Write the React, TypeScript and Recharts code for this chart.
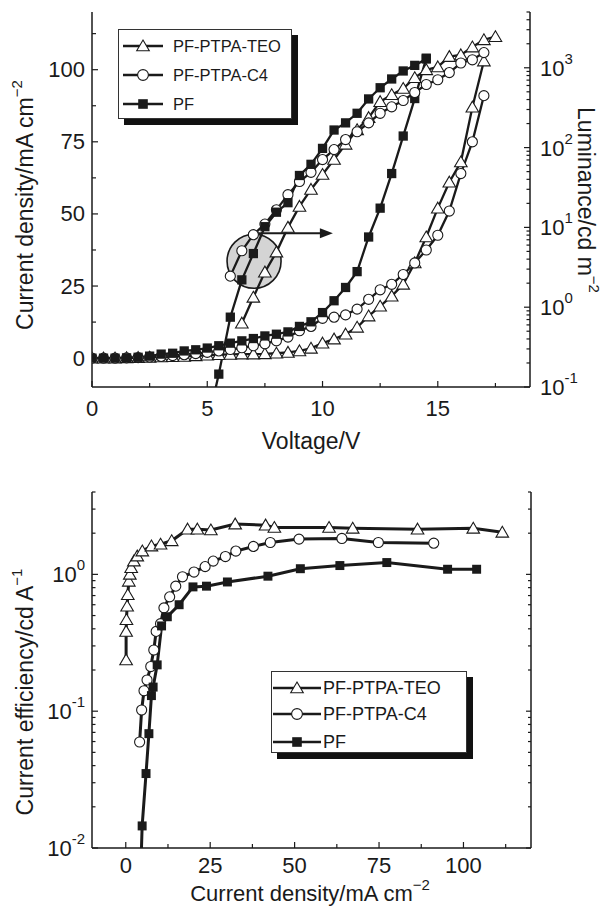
import React from "react";
import { LineChart, Line, XAxis, YAxis, ReferenceDot, ReferenceLine } from "recharts";

// ---------- panel a) current density (left) and luminance (right) vs voltage ----------
const vJ = [0, 0.5, 1, 1.5, 2, 2.5, 3, 3.5, 4, 4.5, 5, 5.5, 6, 6.5, 7, 7.5, 8, 8.5, 9, 9.5, 10, 10.5, 11, 11.5, 12, 12.5, 13, 13.5, 14, 14.5, 15, 15.5, 16, 16.5, 17];
const jTEO = [0, 0, 0, 0.1, 0.2, 0.3, 0.4, 0.5, 0.6, 0.8, 1.0, 1.2, 1.3, 1.4, 1.4, 1.5, 1.7, 2.0, 2.5, 3.4, 5.2, 6.6, 8.3, 10.7, 14.6, 18, 21.5, 25.6, 33, 42, 52, 61, 68, 87, 103];
const jC4 = [0, 0, 0, 0.1, 0.2, 0.4, 0.6, 0.9, 1.2, 1.6, 2.0, 2.5, 3.0, 3.6, 4.3, 5.0, 6.0, 7.3, 9.5, 11, 13.8, 14.2, 15, 17, 20.4, 23.7, 25.6, 29, 33, 37.5, 42.6, 51, 64, 75, 91];
const vJPF = [0, 0.5, 1, 1.5, 2, 2.5, 3, 3.5, 4, 4.5, 5, 5.5, 6, 6.5, 7, 7.5, 8, 8.5, 9, 9.5, 10, 10.5, 11, 11.5, 12, 12.5, 13, 13.5, 14, 14.5];
const jPF = [0, 0, 0, 0.1, 0.3, 0.7, 1.4, 1.7, 2.5, 2.9, 3.5, 4.3, 5.2, 6.0, 6.8, 7.7, 8.3, 9.1, 11, 12.6, 15.8, 19.9, 24.5, 30, 42, 52, 64, 77, 90, 104];

const vLumTEO = [6.5, 7, 7.5, 8, 8.5, 9, 9.5, 10, 10.5, 11, 11.5, 12, 12.5, 13, 13.5, 14, 14.5, 15, 15.5, 16, 16.5, 17, 17.5];
const lumTEO = [0.63, 1.33, 2.75, 4.9, 10, 18.3, 29.9, 46, 71, 110, 167, 237, 376, 459, 550, 750, 944, 1024, 1380, 1450, 1820, 2240, 2450];
const vLumC4 = [6, 6.5, 7, 7.5, 8, 8.5, 9, 9.5, 10, 10.5, 11, 11.5, 12, 12.5, 13, 13.5, 14, 14.5, 15, 15.5, 16, 16.5, 17];
const lumC4 = [2.45, 5.1, 8.1, 11, 16.6, 25.7, 37.6, 49, 70.8, 94.4, 126, 158, 204, 269, 324, 389, 490, 617, 708, 871, 1148, 1259, 1549];
const vLumPF = [5.2, 5.5, 6, 6.5, 7, 7.5, 8, 8.5, 9, 9.5, 10, 10.5, 11, 11.5, 12, 12.5, 13, 13.5, 14, 14.5];
const lumPF = [0.06, 0.145, 0.75, 2.2, 4.7, 10.2, 15.5, 20.4, 44.7, 61.7, 97.7, 166, 204, 269, 407, 562, 724, 912, 1072, 1288];

// ---------- panel b) current efficiency vs current density ----------
const jEffTEO = [0.1, 0.1, 0.2, 0.4, 0.6, 0.9, 1.2, 1.6, 2.4, 3.4, 4.9, 7.6, 10.3, 13.6, 18.3, 21.2, 25.2, 32.4, 41.4, 44, 60.2, 67.2, 86.4, 102.9, 111.5];
const effTEO = [0.237, 0.383, 0.466, 0.585, 0.71, 0.89, 1.0, 1.12, 1.25, 1.36, 1.48, 1.61, 1.66, 1.76, 2.14, 2.14, 2.11, 2.33, 2.29, 2.2, 2.2, 2.17, 2.14, 2.17, 2.03];
const jEffC4 = [4.1, 4.7, 5.4, 6.3, 7.4, 8.3, 9.0, 10.3, 11.3, 13, 14.8, 16.8, 20.2, 23.5, 25.9, 29.5, 32.6, 37.8, 42.8, 51.3, 64, 74.8, 91.2];
const effC4 = [0.0595, 0.102, 0.141, 0.169, 0.212, 0.28, 0.383, 0.436, 0.569, 0.685, 0.82, 0.96, 1.04, 1.14, 1.25, 1.35, 1.48, 1.6, 1.71, 1.81, 1.83, 1.71, 1.69];
const jEffPF = [4.5, 4.85, 6.0, 6.85, 7.6, 8.1, 9.3, 10.6, 12.3, 15.8, 19.9, 23.9, 30.1, 42.1, 51.7, 63.4, 77.3, 95.3, 103.9];
const effPF = [0.0075, 0.0145, 0.035, 0.0685, 0.13, 0.15, 0.218, 0.42, 0.49, 0.6, 0.81, 0.82, 0.88, 0.97, 1.1, 1.16, 1.22, 1.09, 1.09];

// ticks
const aXTicks = [0, 2.5, 5, 7.5, 10, 12.5, 15, 17.5];
const aYTicks = [0, 12.5, 25, 37.5, 50, 62.5, 75, 87.5, 100, 112.5];
const bXTicks = [0, 12.5, 25, 37.5, 50, 62.5, 75, 87.5, 100, 112.5];

const seriesNames = ["PF-PTPA-TEO", "PF-PTPA-C4", "PF"];

const FONT = "'Liberation Sans', Arial, Helvetica, sans-serif";
const INK = "#1a1a1a";

const zip = (xs: number[], ys: number[]) => xs.map((x, i) => ({ x, y: ys[i] }));

const logTicks = (from: number, to: number) => {
  const out: number[] = [];
  for (let e = Math.floor(Math.log10(from)); e <= Math.ceil(Math.log10(to)); e++) {
    for (let m = 1; m <= 9; m++) {
      const v = m * Math.pow(10, e);
      if (v >= from * 0.999 && v <= to * 1.001) out.push(v);
    }
  }
  return out;
};
const isDecade = (v: number) => Math.abs(Math.log10(v) - Math.round(Math.log10(v))) < 1e-6;
const every = (step: number) => (v: number) => Math.abs(v / step - Math.round(v / step)) < 1e-6;

const pow10Label = (v: number) => {
  const e = Math.round(Math.log10(v));
  return (
    <>
      <tspan>10</tspan>
      <tspan dy={-10} fontSize={15}>{e < 0 ? `-${-e}` : `${e}`}</tspan>
    </>
  );
};

type Side = "left" | "right" | "top" | "bottom";
const makeTick =
  (side: Side, isMajor: (v: number) => boolean, fmt: ((v: number) => React.ReactNode) | null, gap = 8, majorLen = 6, minorLen = 4) =>
  (props: any) => {
    const { x, y, payload, index } = props;
    const v = payload.value as number;
    const major = isMajor(v);
    const len = major ? majorLen : minorLen;
    const dx = side === "left" ? len : side === "right" ? -len : 0;
    const dy = side === "bottom" ? -len : side === "top" ? len : 0;
    let label: React.ReactNode = null;
    if (fmt && major) {
      const pos =
        side === "left"
          ? { x: x - gap, y, textAnchor: "end" }
          : side === "right"
          ? { x: x + gap, y, textAnchor: "start" }
          : side === "bottom"
          ? { x, y: y + gap, textAnchor: "middle" }
          : { x, y: y - gap, textAnchor: "middle" };
      label = (
        <text {...(pos as any)} dominantBaseline="central" fontSize={22} fontFamily={FONT} fill={INK}>
          {fmt(v)}
        </text>
      );
    }
    return (
      <g key={`tk-${side}-${index}`}>
        <line x1={x} y1={y} x2={x + dx} y2={y + dy} stroke={INK} strokeWidth={1.2} />
        {label}
      </g>
    );
  };

const Title = ({ px, py, rot, text, sup, size = 23 }: any) => (
  <text
    x={px}
    y={py}
    transform={rot ? `rotate(${rot} ${px} ${py})` : undefined}
    textAnchor="middle"
    dominantBaseline="central"
    fontSize={size}
    fontFamily={FONT}
    fill={INK}
  >
    {text}
    {sup ? (
      <tspan dy={-9} fontSize={15}>
        {sup}
      </tspan>
    ) : null}
  </text>
);

// markers
type Kind = "tri" | "circ" | "sq";
const Marker = ({ kind, cx, cy, s }: { kind: Kind; cx: number; cy: number; s: number }) => {
  if (kind === "tri")
    return (
      <path
        d={`M${cx},${cy - s} L${cx + s * 1.05},${cy + s * 0.8} L${cx - s * 1.05},${cy + s * 0.8} Z`}
        fill="#fff"
        stroke={INK}
        strokeWidth={1.1}
      />
    );
  if (kind === "circ") return <circle cx={cx} cy={cy} r={s * 0.9} fill="#fff" stroke={INK} strokeWidth={1.1} />;
  return <rect x={cx - s * 0.8} y={cy - s * 0.8} width={s * 1.6} height={s * 1.6} fill={INK} />;
};
const dotOf = (kind: Kind, s: number, minY: number) => (p: any) => {
  const key = `${kind}-${p.index}`;
  if (p.cx == null || p.cy == null || p.payload.y < minY) return <g key={key} />;
  return (
    <g key={key}>
      <Marker kind={kind} cx={p.cx} cy={p.cy} s={s} />
    </g>
  );
};

const Arrow = (p: any) => {
  const { x1, y1, x2, y2 } = p;
  return (
    <g>
      <line x1={x1} y1={y1} x2={x2 - 8} y2={y2} stroke={INK} strokeWidth={2} />
      <path d={`M${x2},${y2} L${x2 - 13},${y2 - 5} L${x2 - 13},${y2 + 5} Z`} fill={INK} />
    </g>
  );
};

const LegendBox = ({ left, top, width, height, rows, sampleX1, sampleX2, textX, fontSize, s }: any) => {
  const kinds: Kind[] = ["tri", "circ", "sq"];
  return (
    <div
      style={{
        position: "absolute",
        left,
        top,
        width,
        height,
        border: "1px solid #333",
        boxSizing: "border-box",
        background: "#fff",
        boxShadow: "6px 6px 0 #111",
      }}
    >
      <svg width={width - 2} height={height - 2} style={{ display: "block" }}>
        {seriesNames.map((name, i) => (
          <g key={name}>
            <line x1={sampleX1} y1={rows[i]} x2={sampleX2} y2={rows[i]} stroke={INK} strokeWidth={2.6} />
            <Marker kind={kinds[i]} cx={(sampleX1 + sampleX2) / 2} cy={rows[i]} s={s} />
            <text x={textX} y={rows[i]} dominantBaseline="central" fontSize={fontSize} fontFamily={FONT} fill={INK}>
              {name}
            </text>
          </g>
        ))}
      </svg>
    </div>
  );
};

const axisLine = { stroke: INK, strokeWidth: 1.5 };

const PanelA = () => {
  const rTicks = logTicks(0.1, 5000);
  const common = { type: "linear" as const, stroke: INK, strokeWidth: 2.3, activeDot: false, isAnimationActive: false, xAxisId: "x" };
  return (
    <LineChart width={602} height={460} margin={{ top: 12, right: 0, bottom: 0, left: 0 }}>
      <XAxis
        xAxisId="x"
        dataKey="x"
        type="number"
        domain={[0, 19]}
        ticks={aXTicks}
        interval={0}
        tickSize={0}
        tickMargin={0}
        tickLine={false}
        axisLine={axisLine}
        tick={makeTick("bottom", every(5), (v) => `${v}`, 21)}
        height={73}
        allowDataOverflow
        label={<Title px={311} py={441} text="Voltage/V" />}
      />
      <XAxis
        xAxisId="top"
        orientation="top"
        type="number"
        domain={[0, 19]}
        ticks={aXTicks}
        interval={0}
        tickSize={0}
        tickMargin={0}
        tickLine={false}
        axisLine={axisLine}
        tick={makeTick("top", every(5), null)}
        height={0}
        allowDataOverflow
        label={<Title px={487} py={357} text="a)" size={27} />}
      />
      <YAxis
        yAxisId="left"
        type="number"
        domain={[-10, 120]}
        ticks={aYTicks}
        interval={0}
        tickSize={0}
        tickMargin={0}
        tickLine={false}
        axisLine={axisLine}
        tick={makeTick("left", every(25), (v) => `${v}`, 7)}
        width={92}
        allowDataOverflow
        label={<Title px={25} py={205} rot={-90} text="Current density/mA cm" sup="−2" />}
      />
      <YAxis
        yAxisId="right"
        orientation="right"
        type="number"
        scale="log"
        domain={[0.1, 5000]}
        ticks={rTicks}
        interval={0}
        tickSize={0}
        tickMargin={0}
        tickLine={false}
        axisLine={axisLine}
        tick={makeTick("right", isDecade, pow10Label, 10, 6, 3.5)}
        width={72}
        allowDataOverflow
        label={<Title px={586} py={200} rot={90} text="Luminance/cd m" sup="−2" />}
      />
      <ReferenceDot
        xAxisId="x"
        yAxisId="left"
        x={7.03}
        y={33.6}
        r={27}
        fill="#d4d4d4"
        stroke={INK}
        strokeWidth={1.6}
        ifOverflow="visible"
        zIndex={50}
      />
      <ReferenceLine
        xAxisId="x"
        yAxisId="left"
        segment={[
          { x: 6.8, y: 43.3 },
          { x: 10.45, y: 43.3 },
        ]}
        shape={Arrow}
        ifOverflow="visible"
        zIndex={50}
      />
      <Line {...common} yAxisId="left" data={zip(vJ, jTEO)} dataKey="y" dot={dotOf("tri", 6, -10)} />
      <Line {...common} yAxisId="left" data={zip(vJ, jC4)} dataKey="y" dot={dotOf("circ", 5.6, -10)} />
      <Line {...common} yAxisId="left" data={zip(vJPF, jPF)} dataKey="y" dot={dotOf("sq", 5.8, -10)} />
      <Line {...common} yAxisId="right" data={zip(vLumTEO, lumTEO)} dataKey="y" dot={dotOf("tri", 6, 0.1)} />
      <Line {...common} yAxisId="right" data={zip(vLumC4, lumC4)} dataKey="y" dot={dotOf("circ", 5.6, 0.1)} />
      <Line {...common} yAxisId="right" data={zip(vLumPF, lumPF)} dataKey="y" dot={dotOf("sq", 5.8, 0.1)} />
    </LineChart>
  );
};

const PanelB = () => {
  const yTicks = logTicks(0.01, 4);
  const common = { type: "linear" as const, stroke: INK, strokeWidth: 3, activeDot: false, isAnimationActive: false, xAxisId: "x", yAxisId: "left" };
  return (
    <LineChart width={602} height={448} margin={{ top: 32, right: 0, bottom: 0, left: 0 }}>
      <XAxis
        xAxisId="x"
        dataKey="x"
        type="number"
        domain={[-10, 120]}
        ticks={bXTicks}
        interval={0}
        tickSize={0}
        tickMargin={0}
        tickLine={false}
        axisLine={axisLine}
        tick={makeTick("bottom", every(25), (v) => `${v}`, 17)}
        height={60}
        allowDataOverflow
        label={<Title px={310} py={433} text="Current density/mA cm" sup="−2" size={22} />}
      />
      <XAxis
        xAxisId="top"
        orientation="top"
        type="number"
        domain={[-10, 120]}
        ticks={bXTicks}
        interval={0}
        tickSize={0}
        tickMargin={0}
        tickLine={false}
        axisLine={axisLine}
        tick={makeTick("top", every(25), null)}
        height={0}
        allowDataOverflow
        label={<Title px={487} py={357} text="b)" size={27} />}
      />
      <YAxis
        yAxisId="left"
        type="number"
        scale="log"
        domain={[0.01, 4]}
        ticks={yTicks}
        interval={0}
        tickSize={0}
        tickMargin={0}
        tickLine={false}
        axisLine={axisLine}
        tick={makeTick("left", isDecade, pow10Label, 7, 6, 3.5)}
        width={92}
        allowDataOverflow
        label={<Title px={25} py={232} rot={-90} text="Current efficiency/cd A" sup="−1" />}
      />
      <YAxis
        yAxisId="right"
        orientation="right"
        type="number"
        scale="log"
        domain={[0.01, 4]}
        ticks={yTicks}
        interval={0}
        tickSize={0}
        tickMargin={0}
        tickLine={false}
        axisLine={axisLine}
        tick={makeTick("right", isDecade, null, 10, 5, 3)}
        width={71}
        allowDataOverflow
      />
      <Line {...common} data={zip(jEffTEO, effTEO)} dataKey="y" dot={dotOf("tri", 6, 0.01)} />
      <Line {...common} data={zip(jEffC4, effC4)} dataKey="y" dot={dotOf("circ", 5.6, 0.01)} />
      <Line {...common} data={zip(jEffPF, effPF)} dataKey="y" dot={dotOf("sq", 5.6, 0.01)} />
    </LineChart>
  );
};

export default function App() {
  return (
    <div style={{ position: "absolute", left: 0, top: 0, width: 602, height: 908, background: "#fff" }}>
      <div style={{ position: "absolute", left: 0, top: 0 }}>
        <PanelA />
      </div>
      <div style={{ position: "absolute", left: 0, top: 460 }}>
        <PanelB />
      </div>
      <LegendBox
        left={118}
        top={29}
        width={174}
        height={90}
        rows={[16, 45, 74]}
        sampleX1={4}
        sampleX2={44}
        textX={54}
        fontSize={16.5}
        s={6}
      />
      <LegendBox
        left={271}
        top={671}
        width={196}
        height={82}
        rows={[16, 42, 70]}
        sampleX1={1}
        sampleX2={49}
        textX={51}
        fontSize={18}
        s={6}
      />
    </div>
  );
}
